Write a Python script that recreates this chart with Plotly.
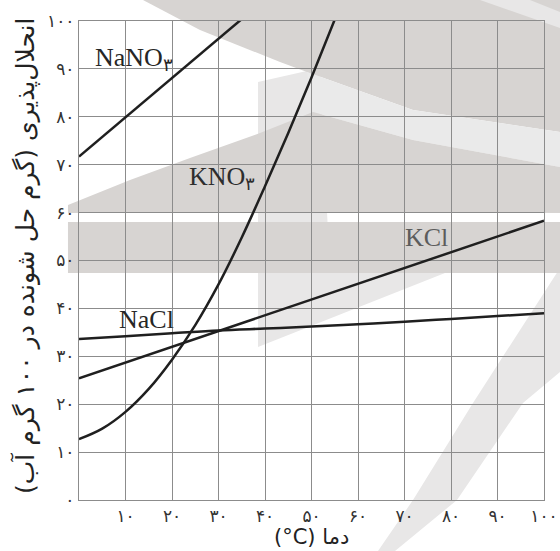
import plotly.graph_objects as go

# ---- data ----
temp_nano3 = [0, 10, 20, 30, 40]
sol_nano3 = [71.7, 79.9, 88.1, 96.3, 104.5]

temp_kno3 = [0, 5, 10, 15, 20, 25, 30, 35, 40, 45, 50, 55, 60]
sol_kno3 = [12.7, 14.9, 18.4, 23.2, 29.3, 36.5, 45.0, 54.8, 65.5, 76.6, 88.2, 100.3, 112.7]

temp_kcl = [0, 10, 20, 30, 40, 50, 60, 70, 80, 90, 100]
sol_kcl = [25.4, 28.7, 32.0, 35.3, 38.6, 41.8, 45.1, 48.4, 51.7, 55.0, 58.3]

temp_nacl = [0, 10, 20, 30, 40, 50, 60, 70, 80, 90, 100]
sol_nacl = [33.6, 34.2, 34.8, 35.4, 35.8, 36.2, 36.7, 37.2, 37.8, 38.4, 39.0]

x_ticks = [10, 20, 30, 40, 50, 60, 70, 80, 90, 100]
x_ticktext = ["۱۰", "۲۰", "۳۰", "۴۰", "۵۰", "۶۰", "۷۰", "۸۰", "۹۰", "۱۰۰"]
y_ticks = [0, 10, 20, 30, 40, 50, 60, 70, 80, 90, 100]
y_ticktext = ["۰", "۱۰", "۲۰", "۳۰", "۴۰", "۵۰", "۶۰", "۷۰", "۸۰", "۹۰", "۱۰۰"]

labels = ["NaNO<sub>۳</sub>", "KNO<sub>۳</sub>", "KCl", "NaCl"]
label_x = [3.0, 23.2, 74.8, 8.2]
label_y = [92.0, 67.2, 54.9, 37.6]
label_anchor = ["left", "left", "center", "left"]
label_color = ["#262626", "#2e2e2e", "#5c5c5c", "#262626"]

x_title = "(°C) دما"
y_title = "\u200fانحلال‌پذیری (گرم حل شونده در ۱۰۰ گرم آب)\u200f"

W, H = 560, 551
L, R, T, B = 79, 16, 21, 51

fig = go.Figure()

line_style = dict(color="#1f1f1f", width=2.5)
fig.add_trace(go.Scatter(x=temp_nano3, y=sol_nano3, mode="lines", line=line_style, hoverinfo="skip"))
fig.add_trace(go.Scatter(x=temp_kno3, y=sol_kno3, mode="lines", line=dict(line_style, shape="spline"), hoverinfo="skip"))
fig.add_trace(go.Scatter(x=temp_kcl, y=sol_kcl, mode="lines", line=line_style, hoverinfo="skip"))
fig.add_trace(go.Scatter(x=temp_nacl, y=sol_nacl, mode="lines", line=dict(line_style, shape="spline"), hoverinfo="skip"))

# ---- background watermark (decorative, pixel outline converted to paper) ----
pw, ph = W - L - R, H - T - B


def px_path(pts):
    s = []
    for i, (px, py) in enumerate(pts):
        xp = (px - L) / pw
        yp = (H - B - py) / ph
        s.append(("M" if i == 0 else "L") + f"{xp:.4f},{yp:.4f}")
    return " ".join(s) + " Z"


light = "#e8e7e7"
dark = "#d7d4d2"
wm = [
    ([(258, 82), (320, 68), (330, 273), (258, 273)], light),
    ([(258, 273), (445, 273), (258, 347)], light),
    ([(378, 551), (413, 500), (473, 403), (560, 268), (560, 372), (523, 403), (457, 500), (395, 551)], light),
    ([(143, 0), (560, 0), (560, 132), (413, 110), (307, 72), (280, 62), (200, 30)], dark),
    ([(480, 0), (530, 0), (560, 12), (560, 28)], light),
    ([(307, 72), (413, 110), (560, 132), (560, 167), (413, 140), (313, 112)], "#eaeaea"),
    ([(68, 205), (130, 180), (190, 158), (260, 133), (313, 112), (413, 140), (560, 167), (560, 213), (68, 213)], dark),
    ([(68, 222), (560, 222), (560, 273), (68, 273)], dark),
]
shapes = []
for pts, col in wm:
    shapes.append(dict(type="path", xref="paper", yref="paper", path=px_path(pts),
                       fillcolor=col, line=dict(width=0), layer="below"))

annotations = []
for t, xv, yv, anc, col in zip(labels, label_x, label_y, label_anchor, label_color):
    annotations.append(dict(x=xv, y=yv, xref="x", yref="y", text=t, showarrow=False,
                            xanchor=anc, yanchor="middle",
                            font=dict(family="Liberation Serif", size=26, color=col)))

annotations.append(dict(x=0.5, y=(H - B - 537) / ph, xref="paper", yref="paper", text=x_title, showarrow=False,
                        xanchor="center", yanchor="middle",
                        font=dict(family="DejaVu Sans", size=21, color="#222222")))
annotations.append(dict(x=(25 - L) / pw, y=(H - B - 256) / ph, xref="paper", yref="paper", text=y_title,
                        showarrow=False, textangle=-90, xanchor="center", yanchor="middle",
                        font=dict(family="DejaVu Sans", size=25, color="#222222")))

grid_col = "#8c8c8c"
fig.update_layout(
    width=W, height=H,
    margin=dict(l=L, r=R, t=T, b=B),
    paper_bgcolor="white",
    plot_bgcolor="rgba(0,0,0,0)",
    showlegend=False,
    shapes=shapes,
    annotations=annotations,
    xaxis=dict(range=[0, 100], tickvals=x_ticks, ticktext=x_ticktext, showgrid=True,
               gridcolor=grid_col, gridwidth=1.2, zeroline=False, showline=True, linecolor=grid_col,
               linewidth=1.2, mirror=True, ticks="", fixedrange=True, automargin=False,
               tickfont=dict(family="DejaVu Sans", size=17, color="#333333")),
    yaxis=dict(range=[0, 100], tickvals=y_ticks, ticktext=y_ticktext, showgrid=True,
               gridcolor=grid_col, gridwidth=1.2, zeroline=False, showline=True, linecolor=grid_col,
               linewidth=1.2, mirror=True, ticks="", fixedrange=True, automargin=False,
               tickfont=dict(family="DejaVu Sans", size=17, color="#333333")),
)

fig.write_html("out.html", config={"displayModeBar": False},
               post_script="document.body.style.margin='0';document.body.style.overflow='hidden';")
